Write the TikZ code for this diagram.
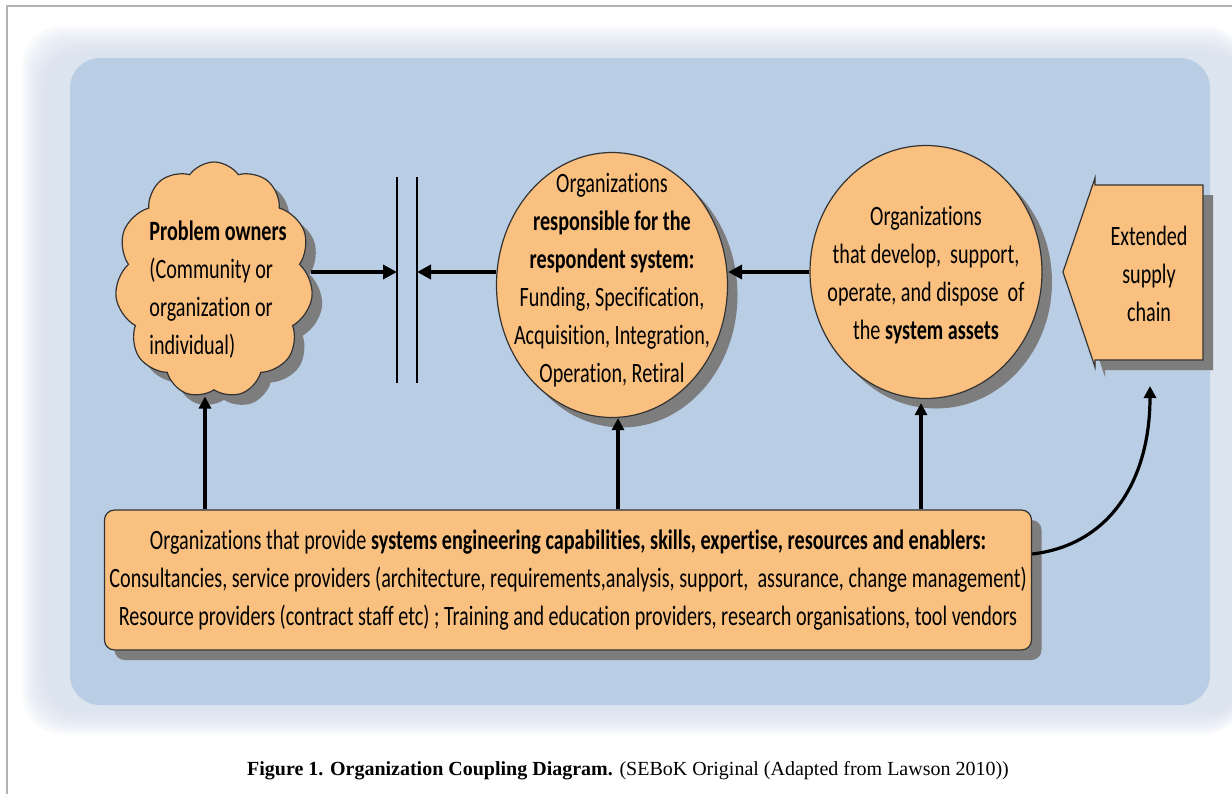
\documentclass[tikz,border=0pt]{standalone}
\usepackage{fontspec}
\setmainfont{Carlito}[FakeStretch=0.72, Ligatures=NoCommon]
\newfontfamily\figcapfont{Liberation Serif}
\usetikzlibrary{shapes.symbols,shapes.geometric,shadows,arrows.meta}
\definecolor{orgfill}{RGB}{250,192,128}
\definecolor{panelblue}{RGB}{185,205,228}
\definecolor{panelglow}{RGB}{214,224,238}
\definecolor{shadowgray}{RGB}{125,125,125}

\begin{document}
\begin{tikzpicture}[
        x=0.5pt, y=-0.5pt,
        body/.style={font=\fontsize{14}{19}\selectfont, align=center, inner sep=0pt},
        orgshape/.style={draw=black!80, line width=0.6pt, fill=orgfill,
            drop shadow={shadow xshift=5pt, shadow yshift=-5pt, fill=shadowgray, opacity=1}},
        org/.style={orgshape, ellipse, inner sep=0pt},
        link/.style={line width=2.2pt, -{Triangle[length=7pt,width=7pt]}},
        feed/.style={line width=1.6pt, -{Triangle[length=6pt,width=6pt]}}
    ]

        \useasboundingbox (0,0) rectangle (1232,794);
        \fill[white] (0,0) rectangle (1232,794);
        \draw[black!30, line width=0.6pt] (7,794) -- (7,6) -- (1232,6);

        \foreach \d in {0,...,9}
            \fill[panelglow, opacity=0.14, rounded corners=20pt] (22+2.6*\d,26+3*\d) rectangle (1245,734-2.5*\d);
        \fill[panelblue, rounded corners=15pt] (70,58) rectangle (1210,705);

        \node[orgshape, cloud, cloud puffs=11, cloud puff arc=110, aspect=0.84,
              minimum width=99pt, minimum height=118pt, inner sep=0pt] (owners) at (214,280) {};
        \node[body, align=left] (ownerstext) at (218,290)
            {\textbf{Problem owners}\\(Community or\\organization or\\individual)};

        \node[org, minimum width=115.5pt, minimum height=132.5pt] (respondent) at (612,285) {};
        \node[body] (respondenttext) at (612,280)
            {Organizations\\\textbf{responsible for the}\\\textbf{respondent system:}\\Funding, Specification,\\Acquisition, Integration,\\Operation, Retiral};

        \node[org, minimum width=116pt, minimum height=126.5pt] (assets) at (926,272) {};
        \node[body] (assetstext) at (926,275)
            {Organizations\\that develop,~ support,\\operate, and dispose~ of\\the \textbf{system assets}};

        \filldraw[orgshape] (1095,178) -- (1095,185) -- (1203,185) -- (1203,360)
            -- (1095,360) -- (1095,367) -- (1063,272) -- cycle;
        \node[body] (chain) at (1149,274) {Extended\\supply\\chain};

        \draw[line width=0.6pt] (397,177) -- (397,383);
        \draw[line width=0.6pt] (417,177) -- (417,383);
        \coordinate (barL) at (397,272);
        \coordinate (barR) at (417,272);

        \draw[link] (owners.east |- barL) -- (barL);
        \draw[link] (respondent.west |- barR) -- (barR);
        \draw[link] (assets.west) -- (assets.west -| respondent.east);

        \node[orgshape, rectangle, rounded corners=5pt, minimum width=463.5pt, minimum height=70pt, body] (enablers) at (568,580)
            {Organizations that provide \textbf{systems engineering capabilities, skills, expertise, resources and enablers:}\\
             Consultancies, service providers (architecture, requirements,analysis, support,~ assurance, change management)\\
             Resource providers (contract staff etc) ; Training and education providers, research organisations, tool vendors};

        \coordinate (ownersfoot) at ([xshift=-4.5pt]owners.south);
        \draw[feed, shorten >=3pt] (ownersfoot |- enablers.north) -- (ownersfoot);
        \draw[feed] ([xshift=3pt]respondent.south |- enablers.north) -- ([xshift=3pt]respondent.south);
        \draw[feed, shorten >=2pt] ([xshift=-2.5pt]assets.south |- enablers.north) -- ([xshift=-2.5pt]assets.south);
        \coordinate (chainfoot) at (1150,386);
        \draw[feed] ([yshift=13pt]enablers.east) .. controls (1110,545) and (1150,480) .. (chainfoot);

        \node[font=\figcapfont\fontsize{10}{12}\selectfont] (caption) at (628,771)
            {\textbf{Figure 1. Organization Coupling Diagram.} (SEBoK Original (Adapted from Lawson 2010))};

    \end{tikzpicture}
\end{document}
